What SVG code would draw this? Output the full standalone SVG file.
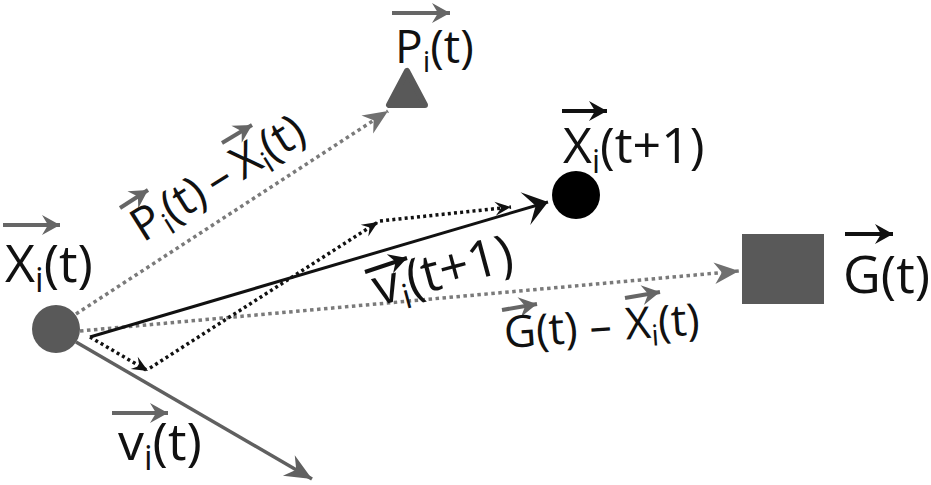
<svg xmlns="http://www.w3.org/2000/svg" width="931" height="485" viewBox="0 0 931 485">
<style>
text{font-family:"Open Sans","Noto Sans","DejaVu Sans",sans-serif;fill:#111}
.gdot{fill:none;stroke:#7a7a7a;stroke-width:3.5;stroke-dasharray:3.5 3.5}
.kdot{fill:none;stroke:#111;stroke-width:3.5;stroke-dasharray:3 3.2}
.gsol{fill:none;stroke:#606060;stroke-width:3.5}
.ksol{fill:none;stroke:#111;stroke-width:3}
.accg{fill:none;stroke:#666;stroke-width:4;marker-end:url(#ag)}
.acck{fill:none;stroke:#111;stroke-width:4;marker-end:url(#ak)}
</style>
<defs>
<marker id="mg" markerUnits="userSpaceOnUse" orient="auto" markerWidth="30" markerHeight="30" refX="0" refY="0" viewBox="-26 -13 28 26" overflow="visible"><path d="M0,0 L-23,-10 L-16,0 L-23,10 Z" fill="#707070"/></marker>
<marker id="mgs" markerUnits="userSpaceOnUse" orient="auto" markerWidth="30" markerHeight="30" refX="0" refY="0" viewBox="-26 -13 28 26" overflow="visible"><path d="M0,0 L-25,-11 L-17,0 L-25,11 Z" fill="#606060"/></marker>
<marker id="mk" markerUnits="userSpaceOnUse" orient="auto" markerWidth="30" markerHeight="40" refX="0" refY="0" viewBox="-26 -18 28 36" overflow="visible"><path d="M0,0 L-22,-16 L-12,0 L-22,16 Z" fill="#111"/></marker>
<marker id="mks" markerUnits="userSpaceOnUse" orient="auto" markerWidth="20" markerHeight="20" refX="0" refY="0" viewBox="-18 -9 20 18" overflow="visible"><path d="M0,0 L-16,-7 L-10,0 L-16,7 Z" fill="#111"/></marker>
<marker id="ag" markerUnits="userSpaceOnUse" orient="auto" markerWidth="22" markerHeight="22" refX="0" refY="0" viewBox="-20 -11 22 22" overflow="visible"><path d="M0,0 L-18,-10 L-12,0 L-18,10 Z" fill="#666"/></marker>
<marker id="ak" markerUnits="userSpaceOnUse" orient="auto" markerWidth="22" markerHeight="22" refX="0" refY="0" viewBox="-20 -11 22 22" overflow="visible"><path d="M0,0 L-18,-10 L-12,0 L-18,10 Z" fill="#111"/></marker>
</defs>

<g id="connectors">
  <line class="gdot" x1="76" y1="314" x2="388" y2="111" marker-end="url(#mg)"/>
  <line class="gdot" x1="80" y1="331" x2="739" y2="271" marker-end="url(#mg)"/>
  <line class="gsol" x1="76" y1="342" x2="312" y2="479" marker-end="url(#mgs)"/>
  <line class="ksol" x1="90" y1="337" x2="548" y2="202" marker-end="url(#mk)"/>
  <line class="kdot" x1="90" y1="337" x2="148" y2="371" marker-end="url(#mks)"/>
  <line class="kdot" x1="150" y1="368" x2="378" y2="222" marker-end="url(#mks)"/>
  <line class="kdot" x1="380" y1="221" x2="511" y2="207" marker-end="url(#mks)"/>

  <g id="label-vi">
    <path class="accg" d="M112,413 H168"/>
    <text x="118" y="460" font-size="52">v<tspan font-size="34" dy="10">i</tspan><tspan dy="-10">(t)</tspan></text>
  </g>
  <g id="label-vi1">
    <path class="acck" d="M365,272 L407,258"/>
    <text x="378" y="306" font-size="52" transform="rotate(-15 378 306)">v<tspan font-size="34" dy="10">i</tspan><tspan dy="-10">(t+1)</tspan></text>
  </g>
  <g id="label-g-x">
    <path class="accg" d="M502,310 L537,304"/>
    <path class="accg" d="M625,298 L660,292"/>
    <text x="505" y="348" font-size="44" transform="rotate(-4 505 348)">G(t)<tspan dx="12">–</tspan><tspan dx="14">X</tspan><tspan font-size="29" dy="8">i</tspan><tspan dy="-8">(t)</tspan></text>
  </g>
  <g id="label-p-x">
    <path class="accg" d="M120,208 L148,190"/>
    <path class="accg" d="M222,143 L252,125"/>
    <text x="143" y="243" font-size="46" transform="rotate(-32 143 243)">P<tspan font-size="30" dy="8">i</tspan><tspan dy="-8">(t)</tspan><tspan dx="8">–</tspan><tspan dx="8">X</tspan><tspan font-size="30" dy="8">i</tspan><tspan dy="-8">(t)</tspan></text>
  </g>
</g>

<g id="node-xi">
  <circle cx="56" cy="329" r="24" fill="#595959"/>
  <path class="accg" d="M3,225 H60"/>
  <text x="5" y="282" font-size="52">X<tspan font-size="34" dy="10">i</tspan><tspan dy="-10">(t)</tspan></text>
</g>

<g id="node-pi">
  <polygon points="407,71 389,105 425,105" fill="#595959" stroke="#595959" stroke-width="6" stroke-linejoin="round"/>
  <path class="accg" d="M392,13 H450"/>
  <text x="395" y="63" font-size="46">P<tspan font-size="30" dy="9">i</tspan><tspan dy="-9">(t)</tspan></text>
</g>

<g id="node-xi1">
  <circle cx="576" cy="195" r="24" fill="#000"/>
  <path class="acck" d="M562,111 H607"/>
  <text x="563" y="163" font-size="50">X<tspan font-size="32" dy="10">i</tspan><tspan dy="-10">(t+1)</tspan></text>
</g>

<g id="node-g">
  <rect x="742" y="234" width="82" height="70" fill="#595959"/>
  <path class="acck" d="M845,234 H893"/>
  <text x="843" y="293" font-size="52">G(t)</text>
</g>
</svg>
